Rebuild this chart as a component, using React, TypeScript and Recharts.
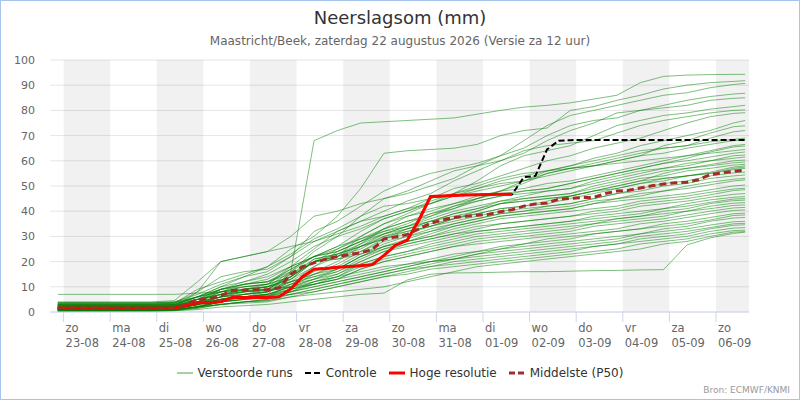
import React from "react";
import { LineChart, Line, XAxis, YAxis, CartesianGrid, ReferenceArea } from "recharts";

// time axis in hours after 23-08 00:00
const hours = [
  -3, 3, 9, 15, 21, 27, 33, 39, 45, 51, 57, 63, 69, 75, 81, 87, 93, 99, 105, 111,
  117, 123, 129, 135, 141, 147, 153, 159, 165, 171, 177, 183, 189, 195, 201, 207, 213, 219, 225, 231,
  237, 243, 249, 255, 261, 267, 273, 279, 285, 291, 297, 303, 309, 315, 321, 327, 333, 339, 345, 351,
];
const memberHours = [
  -3, 9, 21, 33, 45, 57, 69, 81, 93, 105, 117, 129, 141, 153, 165, 177, 189, 201, 213, 225,
  237, 249, 261, 273, 285, 297, 309, 321, 333, 345, 351,
];

const dayTicks = [0, 24, 48, 72, 96, 120, 144, 168, 192, 216, 240, 264, 288, 312, 336];
const dayNames = ["zo", "ma", "di", "wo", "do", "vr", "za", "zo", "ma", "di", "wo", "do", "vr", "za", "zo"];
const dayDates = ["23-08", "24-08", "25-08", "26-08", "27-08", "28-08", "29-08", "30-08", "31-08", "01-09", "02-09", "03-09", "04-09", "05-09", "06-09"];
const shadedDays = [0, 48, 96, 144, 192, 240, 288, 336];
const yTicks = [0, 10, 20, 30, 40, 50, 60, 70, 80, 90, 100];

const hiRes = [
  1.5, 1.5, 1.5, 1.5, 1.5, 1.5, 1.5, 1.5, 1.5, 1.5, 1.5,
  2.6, 3.7, 3.7, 4.1, 5.8, 5.8, 5.8, 5.8, 6.0, 9.2, 14, 17, 17.3, 17.8, 18.1, 18.4, 18.8,
  22.5, 26.5, 28.5, 36.5, 45.8, 46.0, 46.2, 46.4, 46.5, 46.6, 46.7, 46.7,
];

const control = [
  1.5, 1.5, 1.5, 1.5, 1.5, 1.5, 1.5, 1.5, 1.5, 1.5, 1.5,
  2.6, 3.7, 3.7, 4.1, 5.8, 5.8, 5.8, 5.8, 6.0, 9.2, 14, 17, 17.3, 17.8, 18.1, 18.4, 18.8,
  22.5, 26.5, 28.5, 36.5, 45.8, 46.0, 46.2, 46.4, 46.5, 46.6, 46.7, 46.7,
  53.5, 54, 64.5, 68, 68.2, 68.3, 68.3, 68.3, 68.3, 68.3, 68.3, 68.3, 68.3, 68.3, 68.3,
  68.3, 68.3, 68.3, 68.3, 68.3,
];

const median = [
  1.6, 1.6, 1.6, 1.6, 1.6, 1.6, 1.6, 1.6, 1.6, 1.6, 1.6,
  3.0, 5.0, 5.2, 6.5, 8.5, 8.7, 8.8, 8.9, 9.5, 15, 18, 19.5, 21, 22, 22.8, 23.5, 24.8,
  29, 29.8, 30.8, 33, 35.2, 36.5, 37.5, 38, 38.4, 38.8, 39.8, 40.6, 42, 42.9, 43.2, 44.8,
  45.1, 45.4, 45.5, 47, 48, 48.3, 49.2, 50.1, 50.8, 51.3, 51.5, 52.5, 54.5, 55.2, 55.8, 56.3,
];

// ensemble members, one value per memberHours entry
const members = [
  [1.2, 1.2, 1.2, 1.2, 1.2, 1.5, 3, 5, 6, 7, 16, 68, 72, 75, 75.5, 76, 76.5, 77, 78.5, 80, 81.3, 82, 83, 84.5, 86, 91, 93.5, 94, 94.2, 94.3, 94.3],
  [2.5, 2.5, 2.5, 2.5, 2.5, 3, 6, 10, 14, 18, 25, 30, 38, 49, 63, 64, 64.5, 65, 66.5, 70, 72, 73, 80, 81.5, 84, 86, 88.5, 90, 91, 91.5, 91.8],
  [3, 3, 3, 3, 3, 3.5, 8, 14, 16, 17, 22, 32, 36, 42, 48, 52, 55, 57, 59, 62, 68, 74, 78, 80, 82, 84, 86, 87, 89, 90.3, 90.7],
  [1.8, 1.8, 1.8, 1.8, 1.8, 2, 8, 20, 22, 24, 30, 38, 40, 43, 45, 47, 50, 53, 58, 62, 65, 70, 74, 76, 77, 80, 82, 84, 85.5, 86.5, 86.8],
  [0.8, 0.8, 0.8, 0.8, 0.8, 1, 3, 6, 8, 10, 16, 24, 30, 38, 45, 48, 52, 56, 58, 60, 63, 68, 72, 75, 79, 80, 81, 82, 84, 84.8, 85],
  [2, 2, 2, 2, 2, 2.2, 4, 9, 12, 15, 20, 26, 30, 33, 37, 40, 44, 47, 52, 58, 62, 64, 66, 70, 74, 76, 78, 79, 80.5, 81.5, 82],
  [1.5, 1.5, 1.5, 1.5, 1.5, 2, 5, 9, 10, 11, 18, 25, 32, 36, 40, 44, 47, 52, 56, 60, 64, 66, 67, 68, 71, 74, 76, 77.5, 79, 80, 80.2],
  [3.5, 3.5, 3.5, 3.5, 3.5, 4, 7, 11, 14, 16, 22, 28, 32, 36, 38, 41, 45, 49, 51, 54, 57, 60, 62, 65, 67, 69, 72, 75, 77.5, 78.8, 79.1],
  [0.5, 0.5, 0.5, 0.5, 0.5, 0.8, 2, 4, 6, 8, 12, 18, 24, 28, 33, 36, 38, 41, 45, 48, 52, 56, 58, 61, 63, 66, 68, 70, 72, 75, 76],
  [2.8, 2.8, 2.8, 2.8, 2.8, 3, 6, 8, 9, 11, 17, 22, 26, 29, 33, 38, 40, 43, 46, 48, 51, 55, 57, 58, 60, 62, 66, 68, 71, 73.5, 73.9],
  [1, 1, 1, 1, 1, 1.2, 3, 7, 8, 9, 14, 20, 25, 30, 35, 39, 43, 46, 48, 50, 52, 55, 57, 59, 61, 63, 65, 66, 69, 71.5, 72],
  [4, 4, 4, 4, 4, 4.5, 12, 20, 22, 24, 26, 28, 31, 34, 38, 41, 43, 46, 49, 52, 54, 56, 58, 60, 62, 64, 65, 66, 67.5, 68.5, 69],
  [2.2, 2.2, 2.2, 2.2, 2.2, 2.5, 4, 8, 11, 13, 18, 22, 26, 32, 37, 40, 43, 47, 49, 51, 52, 54, 56, 58, 60, 62, 63, 65, 66.5, 68, 68.3],
  [1.6, 1.6, 1.6, 1.6, 1.6, 1.8, 4, 6, 7, 8, 13, 18, 22, 30, 35, 38, 41, 43, 45, 48, 49, 51, 52, 54, 56, 58, 60, 62, 64, 66, 66.5],
  [0.6, 0.6, 0.6, 0.6, 0.6, 1, 2, 5, 7, 9, 15, 20, 22, 27, 33, 36, 39, 41, 44, 46, 48, 49, 51, 53, 55, 57, 59, 61, 63.5, 65.5, 65.9],
  [3.2, 3.2, 3.2, 3.2, 3.2, 3.5, 9, 12, 15, 18, 23, 29, 33, 38, 42, 43, 45, 47, 50, 53, 55, 56, 57, 58, 59, 60, 61, 62, 63, 64, 64.5],
  [2, 2, 2, 2, 2, 2.3, 5, 9, 11, 12, 16, 22, 24, 28, 32, 34, 38, 42, 45, 47, 48, 49, 51, 53, 55, 57, 59, 60, 61.5, 63, 63.5],
  [1.3, 1.3, 1.3, 1.3, 1.3, 1.5, 3, 5, 6, 7, 10, 15, 19, 24, 29, 33, 36, 39, 41, 44, 46, 48, 49, 52, 54, 56, 57, 58, 60, 62, 62.3],
  [2.6, 2.6, 2.6, 2.6, 2.6, 2.8, 6, 10, 12, 14, 18, 22, 25, 29, 32, 35, 39, 42, 44, 46, 47, 48, 49, 51, 53, 55, 57, 59, 60, 61, 61.5],
  [0.9, 0.9, 0.9, 0.9, 0.9, 1.2, 3, 6, 9, 10, 14, 20, 22, 26, 31, 34, 36, 38, 40, 43, 45, 46, 47, 50, 52, 54, 56, 57, 58.5, 60, 60.3],
  [3.8, 3.8, 3.8, 3.8, 3.8, 4, 6, 9, 11, 12, 17, 22, 24, 28, 31, 33, 36, 39, 41, 43, 44, 45, 46, 48, 50, 52, 55, 57, 58, 59.2, 59.5],
  [1.4, 1.4, 1.4, 1.4, 1.4, 1.6, 3, 6, 8, 9, 14, 20, 23, 27, 31, 34, 37, 40, 42, 44, 45, 46, 47, 49, 51, 53, 54, 56, 57, 58.3, 58.6],
  [2.4, 2.4, 2.4, 2.4, 2.4, 2.6, 5, 7, 9, 10, 13, 20, 22, 25, 30, 33, 35, 37, 39, 41, 42, 44, 46, 48, 50, 52, 53, 54, 55.5, 57.5, 58],
  [0.4, 0.4, 0.4, 0.4, 0.4, 0.6, 2, 4, 5, 6, 11, 16, 20, 26, 29, 31, 34, 37, 40, 43, 44, 45, 46, 48, 49, 51, 52, 54, 55, 57, 57.5],
  [1.9, 1.9, 1.9, 1.9, 1.9, 2.1, 4, 8, 10, 11, 14, 21, 23, 26, 29, 32, 34, 37, 39, 41, 42, 43, 45, 47, 49, 51, 53, 54, 55, 56.5, 57],
  [3, 3, 3, 3, 3, 3.3, 6, 9, 11, 12, 15, 21, 23, 26, 30, 32, 34, 36, 38, 40, 41, 42, 43, 45, 47, 49, 51, 52, 54, 55.2, 55.5],
  [1.1, 1.1, 1.1, 1.1, 1.1, 1.3, 3, 5, 7, 8, 12, 15, 18, 23, 27, 30, 33, 35, 37, 39, 40, 42, 43, 45, 47, 48, 50, 51, 53, 54, 54.4],
  [2.1, 2.1, 2.1, 2.1, 2.1, 2.3, 4, 7, 9, 10, 13, 20, 21, 24, 28, 30, 32, 34, 36, 38, 39, 40, 41, 43, 45, 47, 48, 50, 51.5, 52.7, 53],
  [0.7, 0.7, 0.7, 0.7, 0.7, 0.9, 2, 4, 6, 7, 10, 13, 17, 22, 26, 29, 32, 35, 37, 39, 40, 41, 42, 44, 45, 46, 48, 49, 50.5, 52, 52.4],
  [2.9, 2.9, 2.9, 2.9, 2.9, 3.1, 5, 8, 10, 11, 14, 20, 21, 23, 26, 28, 31, 34, 36, 38, 39, 40, 41, 43, 44, 45, 46, 47, 48.5, 50, 50.4],
  [1.7, 1.7, 1.7, 1.7, 1.7, 1.9, 4, 6, 7, 8, 11, 14, 17, 22, 25, 28, 30, 33, 35, 37, 38, 39, 40, 41, 42, 44, 45, 46, 47.5, 48.8, 49.1],
  [0.3, 0.3, 0.3, 0.3, 0.3, 0.5, 1.5, 3, 4, 5, 8, 12, 15, 20, 24, 27, 29, 31, 33, 35, 36, 37, 38, 40, 41, 43, 44, 45, 46.5, 48.2, 48.5],
  [2.3, 2.3, 2.3, 2.3, 2.3, 2.5, 5, 7, 8, 9, 12, 15, 17, 22, 26, 28, 30, 32, 34, 35, 36, 37, 38, 39, 40, 42, 43, 44, 45.5, 46.7, 47],
  [1.2, 1.2, 1.2, 1.2, 1.2, 1.4, 3, 5, 6, 7, 10, 13, 16, 20, 24, 26, 28, 30, 32, 33, 34, 35, 36, 38, 39, 40, 41, 43, 44.5, 45.5, 45.8],
  [3.4, 3.4, 3.4, 3.4, 3.4, 3.6, 6, 8, 9, 10, 12, 14, 16, 21, 25, 27, 29, 31, 32, 33, 34, 35, 36, 37, 38, 39, 41, 42, 43.5, 44.8, 45],
  [0.8, 0.8, 0.8, 0.8, 0.8, 1, 2, 4, 5, 6, 9, 11, 14, 19, 22, 24, 27, 29, 31, 32, 33, 34, 35, 36, 37, 38, 40, 41, 43, 44.2, 44.4],
  [2.7, 2.7, 2.7, 2.7, 2.7, 2.9, 4, 6, 7, 8, 11, 13, 15, 19, 22, 24, 26, 28, 30, 31, 32, 33, 34, 35, 37, 38, 39, 40, 42, 43.2, 43.4],
  [1.5, 1.5, 1.5, 1.5, 1.5, 1.7, 3, 5, 6, 7, 9, 12, 14, 18, 21, 23, 25, 27, 29, 30, 31, 32, 33, 35, 36, 37, 38, 40, 41, 42.3, 42.5],
  [0.5, 0.5, 0.5, 0.5, 0.5, 0.7, 2, 3, 4, 5, 8, 11, 13, 17, 20, 22, 24, 26, 28, 29, 30, 31, 32, 34, 35, 36, 37, 38.5, 40, 41.3, 41.5],
  [2, 2, 2, 2, 2, 2.2, 3, 5, 6, 6.5, 9, 11, 13, 17, 20, 22, 24, 26, 27, 28, 29, 30, 31, 32, 33, 35, 36, 37.5, 39, 40.3, 40.5],
  [1, 1, 1, 1, 1, 1.2, 2, 4, 5, 6, 8, 10, 12, 14, 16, 18, 20, 22, 24, 25, 27, 28, 29, 31, 32, 33, 35, 36, 37.5, 39, 39.2],
  [3.6, 3.6, 3.6, 3.6, 3.6, 3.8, 5, 7, 8, 8.5, 10, 12, 14, 16, 18, 19, 21, 23, 24, 26, 27, 29, 30, 31, 32, 33, 34, 35, 36.5, 38.3, 38.5],
  [0.6, 0.6, 0.6, 0.6, 0.6, 0.8, 2, 3, 4, 4.5, 7, 9, 11, 13, 15, 17, 19, 21, 23, 25, 26, 27, 28, 29, 30, 31, 33, 34, 36, 37.3, 37.5],
  [1.8, 1.8, 1.8, 1.8, 1.8, 2, 3, 5, 6, 6.5, 8, 10, 12, 14, 16, 18, 20, 21, 23, 24, 25, 26, 27, 28, 29, 31, 32, 33, 34.5, 35.8, 36],
  [7, 7, 7, 7, 7, 7, 7.5, 8, 8.5, 9, 10, 11, 13, 15, 17, 19, 20, 21, 22, 23, 24, 25, 26, 27, 28, 30, 31, 32, 33.5, 35, 35.2],
  [0.4, 0.4, 0.4, 0.4, 0.4, 0.6, 1.5, 3, 3.5, 4, 6, 8, 10, 12, 14, 16, 18, 20, 21, 22, 23, 24, 25, 26, 27, 29, 30, 31, 33, 34.4, 34.6],
  [2.5, 2.5, 2.5, 2.5, 2.5, 2.7, 4, 5, 6, 6, 7, 9, 11, 13, 15, 17, 18, 19, 20, 21, 22, 23, 24, 26, 27, 28, 29, 30, 32, 33.3, 33.5],
  [1.3, 1.3, 1.3, 1.3, 1.3, 1.5, 2.5, 4, 5, 5.5, 7, 8, 10, 12, 14, 15, 17, 18, 19, 20, 21, 22, 23, 24, 25, 27, 28, 29, 31, 32.3, 32.5],
  [0.9, 0.9, 0.9, 0.9, 0.9, 1.1, 2, 3, 4, 4.5, 6, 7, 8, 9, 10, 12, 14, 16, 18, 19, 20, 21, 22, 23, 24, 25, 27, 28, 30, 31.7, 31.9],
  [0.3, 0.3, 0.3, 0.3, 0.3, 0.5, 1, 2, 2.5, 3, 4, 5, 6, 7, 7.5, 12.7, 15, 15.5, 15.6, 15.8, 16, 16, 16.2, 16.4, 16.5, 16.7, 16.8, 26.6, 29.4, 31.2, 31.7],
];

const X_MIN = -7;
const X_MAX = 353;

const rows = hours.map((t, i) => {
  const row: any = { t, control: control[i], median: median[i] };
  if (i < hiRes.length) row.hiRes = hiRes[i];
  const k = memberHours.indexOf(t);
  if (k >= 0) members.forEach((m, j) => { row["m" + j] = m[k]; });
  return row;
});

const DayTick = (props: any) => {
  const { x, y, payload } = props;
  const i = dayTicks.indexOf(payload.value);
  return (
    <text x={x + 2} y={y} fill="#666666" fontSize={11.5} textAnchor="start">
      <tspan x={x + 2} dy={8}>{dayNames[i]}</tspan>
      <tspan x={x + 2} dy={14.5}>{dayDates[i]}</tspan>
    </text>
  );
};

const LeftTick = (props: any) => (
  <text x={35} y={props.y} dy={4} fill="#666666" fontSize={11} textAnchor="end">{props.payload.value}</text>
);
const RightTick = (props: any) => (
  <text x={763} y={props.y} dy={4} fill="#666666" fontSize={11} textAnchor="start">{props.payload.value}</text>
);

const legendItems = [
  { label: "Verstoorde runs", color: "#008000", width: 2, dash: undefined, opacity: 0.35 },
  { label: "Controle", color: "#000000", width: 2, dash: "6 3", opacity: 1 },
  { label: "Hoge resolutie", color: "#ff0000", width: 3, dash: undefined, opacity: 1 },
  { label: "Middelste (P50)", color: "#a52a2a", width: 3, dash: "6 3", opacity: 1 },
];

export default function App() {
  return (
    <div style={{ position: "relative", width: 800, height: 400, fontFamily: "'DejaVu Sans', sans-serif", background: "#fff" }}>
      <style>{"body{margin:0}"}</style>
      <div style={{ position: "absolute", top: 7, width: 800, textAlign: "center", fontSize: 18, lineHeight: "22px", color: "#333333" }}>
        Neerslagsom (mm)
      </div>
      <div style={{ position: "absolute", top: 33, width: 800, textAlign: "center", fontSize: 12, lineHeight: "16px", color: "#666666" }}>
        Maastricht/Beek, zaterdag 22 augustus 2026 (Versie za 12 uur)
      </div>
      <LineChart width={800} height={400} data={rows} margin={{ top: 60, right: 0, bottom: 58, left: 0 }}>
        {shadedDays.map((d) => (
          <ReferenceArea key={d} x1={d} x2={Math.min(d + 24, X_MAX)} fill="#000000" fillOpacity={0.055} stroke="none" ifOverflow="hidden" />
        ))}
        <CartesianGrid vertical={false} stroke="#e6e6e6" />
        <XAxis
          type="number"
          dataKey="t"
          domain={[X_MIN, X_MAX]}
          ticks={dayTicks}
          interval={0}
          allowDataOverflow
          height={30}
          tickSize={10}
          tickLine={{ stroke: "#ccd6eb" }}
          axisLine={{ stroke: "#ccd6eb" }}
          tick={<DayTick />}
        />
        <YAxis domain={[0, 100]} ticks={yTicks} width={50} axisLine={false} tickLine={false} tick={<LeftTick />} />
        <YAxis yAxisId="right" orientation="right" domain={[0, 100]} ticks={yTicks} width={51} axisLine={false} tickLine={false} tick={<RightTick />} />
        {members.map((_, j) => (
          <Line
            key={j}
            dataKey={"m" + j}
            stroke="#008000"
            strokeOpacity={0.5}
            strokeWidth={1}
            dot={false}
            activeDot={false}
            connectNulls
            isAnimationActive={false}
          />
        ))}
        <Line dataKey="control" stroke="#000000" strokeWidth={2} strokeDasharray="6 3" dot={false} activeDot={false} isAnimationActive={false} />
        <Line dataKey="hiRes" stroke="#ff0000" strokeWidth={3} dot={false} activeDot={false} isAnimationActive={false} />
        <Line dataKey="median" stroke="#a52a2a" strokeWidth={3} strokeDasharray="7 4" dot={false} activeDot={false} isAnimationActive={false} />
      </LineChart>
      <div style={{ position: "absolute", top: 365, width: 800, display: "flex", justifyContent: "center", gap: 12, fontSize: 12, lineHeight: "16px", color: "#333333" }}>
        {legendItems.map((it) => (
          <div key={it.label} style={{ display: "flex", alignItems: "center" }}>
            <svg width={16} height={10}>
              <line x1={0} y1={5} x2={16} y2={5} stroke={it.color} strokeWidth={it.width} strokeDasharray={it.dash} strokeOpacity={it.opacity} />
            </svg>
            <span style={{ marginLeft: 5 }}>{it.label}</span>
          </div>
        ))}
      </div>
      <div style={{ position: "absolute", top: 384, right: 10, fontSize: 9, lineHeight: "12px", color: "#999999" }}>
        Bron: ECMWF/KNMI
      </div>
      <div style={{ position: "absolute", inset: 0, border: "1px solid #a6c4ee", pointerEvents: "none" }} />
    </div>
  );
}
